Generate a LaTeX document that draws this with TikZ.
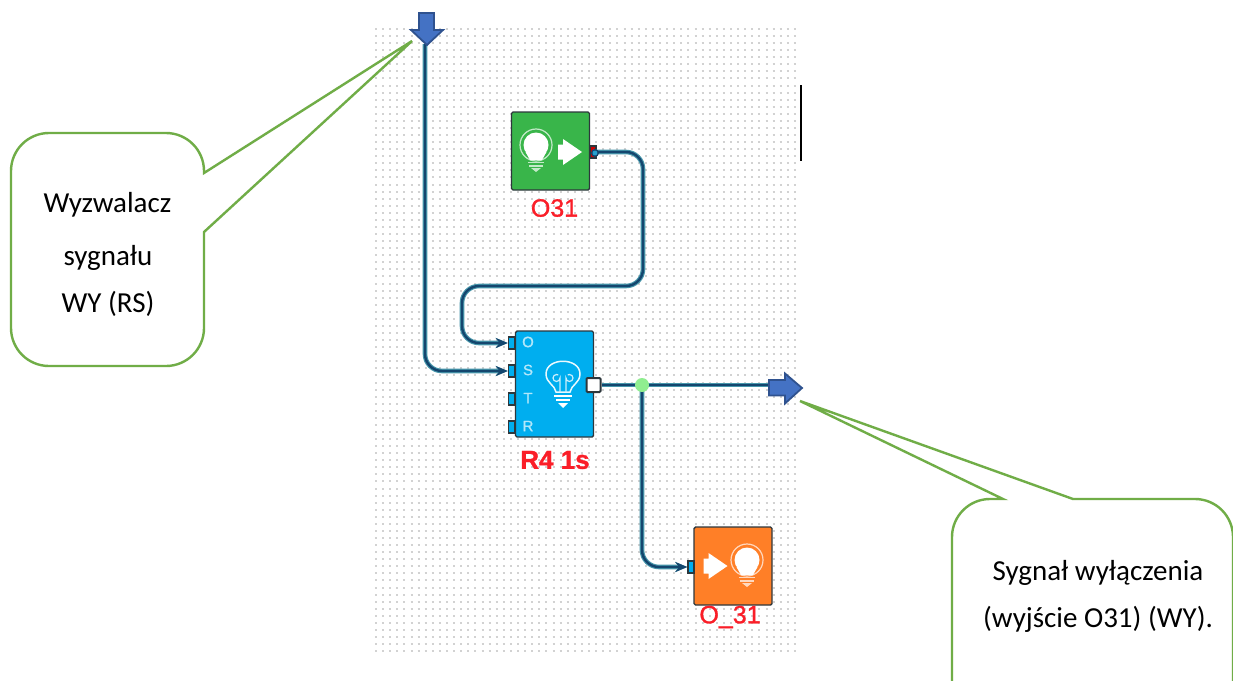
\documentclass[tikz,border=0pt]{standalone}
\usepackage{fontspec}
\setmainfont{Carlito}
\newfontfamily\labelfont[FakeBold=1.2]{Liberation Sans}
\usetikzlibrary{arrows.meta}
\tikzset{
    block/.style={draw=blockEdge, line width=1.4pt, rounded corners=1.5pt, minimum width=78pt, inner sep=0pt},
    port/.style={draw=blockEdge, line width=1.5pt, fill=#1, minimum width=6pt, minimum height=12pt, inner sep=0pt},
    wire/.style={wireCore, line width=2.4pt, rounded corners=17pt,
        preaction={draw=wireEdge, line width=4.6pt}},
    wireIn/.style={wire, -{Stealth[length=12pt,width=10pt]}},
    blockName/.style={text=nameRed, font=\labelfont\fontsize{25}{28}\selectfont},
    portName/.style={text=white!70!portBlue, font=\labelfont\fontsize{15}{17}\selectfont},
    note/.style={font=\fontsize{29}{32}\selectfont, align=center, text=black},
    callout/.style={draw=noteGreen, fill=white, line width=2.4pt},
    flowArrow/.style={draw=flowEdge, fill=flowBlue, line width=1.8pt},
    bulbFull/.pic={
        \draw[white!70!#1, line width=1.2pt] (0,-1) circle (16);
        \fill[white] (0,-1) circle (12.5);
        \fill[white] (-10.5,6) -- (10.5,6) -- (6,14) -- (-6,14) -- cycle;
        \draw[white!70!#1, line width=1.2pt] (-8,16.5) -- (8,16.5) (-7,20) -- (7,20);
        \fill[white!70!#1] (-5,22) -- (5,22) -- (0,26) -- cycle;
    },
    bulbLine/.pic={
        \draw[white!92!#1, line width=1.5pt] (-7,8) .. controls (-8,1) and (-17,-1) .. (-17,-10)
            .. controls (-17,-27) and (17,-27) .. (17,-10)
            .. controls (17,-1) and (8,1) .. (7,8) -- cycle;
        \draw[white!80!#1, line width=1.2pt] (-3,8) -- (-3,-6) arc (0:300:3.5) (3,8) -- (3,-6) arc (180:-120:3.5);
        \draw[white, line width=1.5pt] (-9,12) -- (9,12) (-7,16) -- (7,16);
        \fill[white] (-5,19) -- (5,19) -- (0,24) -- cycle;
    },
    playArrow/.pic={
        \fill[white] (-12,-7.5) -- (-7,-7.5) -- (-7,-13) -- (12,0) -- (-7,13) -- (-7,7.5) -- (-12,7.5) -- cycle;
    }
}
\begin{document}
\begin{tikzpicture}[x=1pt, y=-1pt]
    % --- COLORS ---
    \definecolor{blockEdge}{RGB}{45, 55, 60}
    \definecolor{wireCore}{RGB}{20, 70, 110}
    \definecolor{wireEdge}{RGB}{70, 150, 170}
    \definecolor{nameRed}{RGB}{250, 30, 40}
    \definecolor{noteGreen}{RGB}{112, 173, 71}
    \definecolor{flowBlue}{RGB}{68, 114, 196}
    \definecolor{flowEdge}{RGB}{47, 82, 143}
    \definecolor{lampGreen}{RGB}{57, 181, 74}
    \definecolor{portBlue}{RGB}{0, 174, 239}
    \definecolor{lampOrange}{RGB}{255, 127, 39}
    \definecolor{nodeGreen}{RGB}{144, 238, 144}

    \clip (0,0) rectangle (1233,680);
    \fill[white] (0,0) rectangle (1233,680);

    % Dotted background
    \foreach \row in {0,...,88}
        \draw[gray!35, line width=2pt, dash pattern=on 2pt off 5.1pt]
            (375,{29+7.07*\row}) -- (799,{29+7.07*\row});

    \draw[black, line width=2pt] (801,85) -- (801,161);

    % Blocks
    \node[block, fill=lampGreen, minimum height=78pt] (lampIn) at (550.5,151) {};
    \node[block, fill=portBlue, minimum height=106pt] (relay) at (554.5,384) {};
    \node[block, fill=lampOrange, minimum height=78pt] (lampOut) at (733,566) {};

    \node[port=red!80!black] (lampInOut) at (593,152) {};
    \node[port=portBlue] (relayO) at (511.5,343) {};
    \node[port=portBlue] (relayS) at (511.5,371) {};
    \node[port=portBlue] (relayT) at (511.5,399) {};
    \node[port=portBlue] (relayR) at (511.5,427) {};
    \node[draw=blockEdge, line width=2pt, fill=white, rounded corners=1pt, minimum size=14pt, inner sep=0pt] (relayOut) at (593.5,385) {};
    \node[port=portBlue] (lampOutIn) at (691,567) {};

    % Block contents
    \pic at (536,146) {bulbFull=lampGreen};
    \pic at (570,152) {playArrow};
    \pic at (563,384) {bulbLine=portBlue};
    \pic at (715.5,566) {playArrow};
    \pic at (747,561) {bulbFull=lampOrange};
    \node[portName] (nameO) at (528,342) {O};
    \node[portName] (nameS) at (528,370) {S};
    \node[portName] (nameT) at (528,398) {T};
    \node[portName] (nameR) at (528,426) {R};

    \node[blockName] (labelIn) at (554.5,208) {O31};
    \node[blockName, font=\labelfont\bfseries\fontsize{26}{28}\selectfont] (labelRelay) at (555,460) {R4 1s};
    \node[blockName] (labelOut) at (730,617) {O\_31};

    % Flow arrows
    \coordinate (topTip) at (427,45);
    \coordinate (wireStart) at (425,44);
    \coordinate (rightTail) at (776,385);
    \coordinate (rightTip) at (802,388);
    \coordinate (junction) at (642,385);

    % Wires
    \draw[wireIn] (lampInOut.center) -| (643,286) -| (462,343) -- (relayO.west);
    \draw[wireIn] (wireStart) |- (relayS.west);
    \draw[wire] (relayOut.east) -- (rightTail);
    \draw[wireIn] (junction) |- (lampOutIn.west);
    \fill[nodeGreen] (junction) circle (7);
    \fill[wireCore] (lampInOut.center) ++(2,1) circle (4);
    \fill[portBlue!70!gray] (lampInOut.center) ++(2,1) circle (2.4);

    \draw[flowArrow] (419,13) -- (434,13) -- (434,30) -- (443,30) -- (topTip) -- (411,30) -- (419,30) -- cycle;
    \draw[flowArrow] (769,380) -- (785,380) -- (785,373.5) -- (rightTip) -- (785,403.5) -- (785,395.5) -- (769,395.5) -- cycle;

    % Callouts
    \coordinate (noteLeftTip) at (412,41);
    \coordinate (noteRightTip) at (800,401);
    \draw[callout] (204,173) -- (noteLeftTip) -- (204,232) -- (204,328)
        arc (0:90:38) -- (49,366) arc (90:180:38) -- (11,171) arc (180:270:38)
        -- (166,133) arc (270:360:38) -- cycle;
    \draw[callout] (1003,499) -- (noteRightTip) -- (1073,499) -- (1195,499)
        arc (270:360:38) -- (1233,720) -- (990,720) arc (90:180:38) -- (952,537)
        arc (180:270:38) -- cycle;

    % Annotations
    \node[note] (noteA) at (107.5,205) {Wyzwalacz};
    \node[note] (noteB) at (108,258) {sygnału};
    \node[note] (noteC) at (108,304) {WY (RS)};
    \node[note] (noteD) at (1098,573) {Sygnał wyłączenia};
    \node[note] (noteE) at (1098,619) {(wyjście O31) (WY).};
\end{tikzpicture}
\end{document}
